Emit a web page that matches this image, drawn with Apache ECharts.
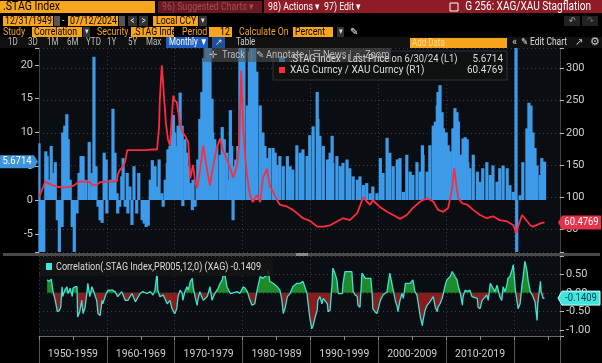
<!DOCTYPE html>
<html><head><meta charset="utf-8">
<script src="https://cdn.jsdelivr.net/npm/echarts@6/dist/echarts.min.js"></script>
<style>html,body{margin:0;padding:0;background:#000;}#c{width:602px;height:363px;}</style>
</head><body><div id="c"></div>
<script>
// ---------- DATA ----------
const decadeLabels = ['1950-1959','1960-1969','1970-1979','1980-1989','1990-1999','2000-2009','2010-2019'];

// .STAG Index, last price (L1) : [decimal year, value]
const stagIndex = [
[1950.0,8.4],[1950.1,-9],[1950.4,-9],[1950.7,-9],[1951.0,7.2],[1951.2,6.5],[1951.5,3],[1951.8,8],[1952.1,4],[1952.4,5.6],
[1952.7,-3],[1953.0,-9],[1953.4,-4],[1953.5,10],[1953.8,11],[1954.1,12.7],[1954.3,9],[1954.6,3],[1954.9,-4],[1955.2,-9],
[1955.6,-2],[1955.9,4],[1956.2,6.5],[1956.3,3],[1956.5,6.5],[1956.9,3],[1957.4,8.6],[1957.8,4],[1958.1,21.2],[1958.4,5],
[1958.7,-1],[1959.0,-3],[1959.3,-3.4],[1959.6,7],[1959.9,6],[1960.0,-2],[1960.5,3],[1960.8,2],[1960.9,13.5],[1961.2,7],
[1961.5,1],[1961.6,-2],[1961.9,-1],[1962.2,3.5],[1962.4,6.2],[1962.7,-1],[1963.0,4],[1963.1,-2],[1963.4,2],[1963.7,-3.7],
[1964.0,5],[1964.4,-2],[1964.7,4],[1965.2,-3],[1965.5,-3.5],[1965.8,-4],[1966.1,-3.8],[1966.4,3],[1966.7,5.9],[1966.8,3],
[1967.1,5],[1967.4,2],[1967.7,6],[1968.1,1],[1968.3,-1],[1968.6,3],[1968.9,5.5],[1969.0,7.5],[1969.3,8],[1969.6,9.6],
[1969.8,12.6],[1970.0,10],[1970.3,8],[1970.5,11],[1970.8,15.9],[1971.1,11],[1971.2,-0.9],[1971.5,9],[1971.8,7],[1972.0,5],
[1972.3,2.5],[1972.6,-1.5],[1972.7,3],[1973.0,-1],[1973.3,2.5],[1973.4,6],[1973.7,12],[1974.0,16],[1974.3,21],[1974.6,25],
[1974.9,25],[1975.2,25],[1975.5,15],[1975.6,10],[1975.9,9],[1976.2,8],[1976.7,6.7],[1977.0,10.8],[1977.3,9],[1977.7,7],
[1977.9,3],[1978.2,13.3],[1978.4,8],[1978.6,-3],[1978.7,5],[1979.0,6],[1979.3,8],[1979.6,25],[1979.9,25],[1980.2,25],
[1980.7,14],[1981.0,22],[1981.2,25],[1981.5,25],[1981.8,25],[1982.1,19],[1982.6,14],[1983.0,10],[1983.3,8],[1983.6,6.2],
[1984.0,7.7],[1984.5,7.7],[1984.8,7],[1985.1,5.2],[1985.5,6.5],[1986.0,5],[1986.6,6.5],[1987.0,5],[1987.4,4.5],[1988.0,8.1],
[1988.5,7],[1988.9,7.5],[1989.5,6.5],[1989.9,9.6],[1990.4,10.9],[1991.0,16],[1991.1,12],[1991.4,9.5],[1991.9,8],[1992.5,6],
[1992.9,7],[1993.2,9.5],[1993.3,5.5],[1993.9,6.5],[1994.4,5],[1994.8,5.5],[1995.4,6],[1995.8,4.7],[1996.3,3.5],[1996.9,3],
[1997.3,3.5],[1997.8,2.2],[1998.3,2.5],[1998.8,1],[1999.2,2],[1999.8,1],[2000.3,6.2],[2000.7,4],[2001.3,9.2],[2001.7,7],
[2002.2,5],[2002.8,6],[2003.2,6.2],[2003.7,1.2],[2004.2,6.7],[2004.7,4.2],[2005.1,3.7],[2005.7,5.6],[2006.2,4.2],[2006.5,8.1],
[2006.6,6.7],[2007.2,4.2],[2007.6,8.1],[2008.1,11],[2008.4,11.6],[2008.7,14],[2008.8,16],[2009.1,17],[2009.4,13],[2009.6,10.6],
[2010.0,10],[2010.3,8.1],[2010.6,7.2],[2011.0,10.6],[2011.3,13.6],[2011.6,13],[2011.8,11.6],[2012.1,6.7],[2012.5,9.1],[2012.8,9.3],
[2013.1,9],[2013.2,5.6],[2013.5,4.7],[2014.0,6.7],[2014.6,4.2],[2015.0,2.7],[2015.4,4.7],[2016.0,5.6],[2016.5,3.7],[2016.9,5.1],
[2017.5,2.7],[2017.9,4.7],[2018.4,5.1],[2019.0,4.7],[2019.4,2.2],[2019.9,1.2],[2020.0,0.7],[2020.3,30],[2020.4,-12],[2020.9,0.7],
[2021.3,5.6],[2021.9,10.6],[2022.2,14.4],[2022.5,14],[2022.8,10],[2023.1,7.7],[2023.4,5.1],[2023.9,3.7],[2024.1,6.2],[2024.3,5.6],
[2024.5,5.6714]
];

// XAG Curncy / XAU Curncy (R1) : [decimal year, value]
const silverGoldRatio = [
[1950.0,100],[1950.1,100],[1950.6,115],[1950.9,124],[1951.3,122],[1951.9,119],[1952.7,116],[1953.4,115],[1954.1,115],[1954.9,117],
[1955.3,119],[1955.9,124],[1956.9,124],[1957.5,123],[1958.0,118],[1958.5,119],[1959.0,123],[1959.9,124],[1960.8,124],[1961.5,125],
[1961.6,135],[1961.9,142],[1962.4,148],[1962.7,155],[1963.0,173],[1964.2,173],[1965.6,173],[1966.7,174],[1967.4,174],[1967.7,210],
[1967.8,250],[1968.1,305],[1968.4,260],[1968.7,215],[1969.0,190],[1969.3,180],[1969.6,230],[1969.8,258],[1970.0,250],[1970.3,248],
[1970.8,212],[1971.2,200],[1971.5,196],[1972.0,185],[1972.3,129],[1972.7,150],[1973.0,124],[1973.3,114],[1973.7,140],[1974.2,180],
[1974.8,140],[1975.2,118],[1975.6,145],[1976.2,177],[1976.7,191],[1977.1,173],[1977.7,158],[1978.2,145],[1978.6,130],[1979.2,150],
[1979.5,180],[1979.8,297],[1980.1,207],[1980.4,160],[1980.7,130],[1981.1,103],[1981.5,92],[1982.1,103],[1982.6,92],[1983.0,130],
[1983.6,144],[1984.0,118],[1984.5,108],[1985.1,95],[1985.5,88],[1986.6,85],[1987.4,80],[1988.0,75],[1988.9,67],[1989.9,63],
[1991.0,54],[1991.9,54],[1992.9,56],[1993.9,62],[1994.8,67],[1995.8,64],[1996.9,75],[1997.8,100],[1998.3,93],[1998.8,88],
[1999.2,95],[2000.3,84],[2001.3,77],[2002.2,72],[2003.2,66],[2004.2,72],[2005.1,83],[2006.2,93],[2007.2,98],[2008.1,93],
[2008.8,80],[2009.6,77],[2010.3,83],[2010.9,114],[2011.2,145],[2011.5,118],[2011.8,98],[2012.4,90],[2013.1,88],[2014.0,80],
[2015.0,72],[2016.0,67],[2016.9,70],[2017.9,64],[2019.0,62],[2019.9,56],[2020.3,44],[2020.6,54],[2021.2,72],[2021.6,67],
[2022.4,56],[2022.8,54],[2023.9,59],[2024.5,60.4769]
];

// Correlation(.STAG Index,PR005,12,0) (XAG) : [decimal year, value]
const correlation = [
[1951.2,0.34],[1951.5,0.3],[1951.8,0.36],[1952.1,0],[1952.4,-0.2],[1952.7,-0.5],[1953.0,-0.46],[1953.2,-0.38],[1953.4,0.16],[1953.5,-0.1],
[1953.8,0.07],[1954.1,0.16],[1954.3,-0.02],[1954.6,0.12],[1954.9,-0.1],[1955.0,0.12],[1955.3,0.16],[1955.6,0.16],[1955.7,-0.64],[1956.0,-0.5],
[1956.3,-0.2],[1956.5,-0.55],[1956.8,-0.38],[1957.1,0.07],[1957.2,0.25],[1957.5,-0.1],[1957.8,0.16],[1958.0,0.07],[1958.3,-0.1],[1958.5,-0.2],
[1958.7,-0.55],[1959.0,-0.6],[1959.3,-0.2],[1959.4,-0.29],[1959.9,-0.02],[1960.2,0.07],[1960.8,0.07],[1961.2,0.03],[1961.6,-0.1],[1962.2,0.03],
[1962.7,-0.2],[1963.1,-0.2],[1963.7,-0.02],[1963.9,0.03],[1964.2,-0.24],[1964.4,-0.29],[1964.9,-0.02],[1965.3,0.03],[1965.9,-0.02],[1966.4,0.03],
[1966.8,-0.06],[1967.1,0.07],[1967.4,0.56],[1967.5,0.07],[1967.8,-0.1],[1968.3,-0.06],[1968.9,-0.29],[1969.3,-0.2],[1969.6,-0.42],[1969.8,-0.38],
[1970.0,-0.55],[1970.3,-0.42],[1970.5,-0.1],[1970.8,0.07],[1971.1,-0.02],[1971.2,-0.2],[1971.5,0.03],[1971.8,0.16],[1972.0,0.07],[1972.3,0.3],
[1972.6,0.38],[1972.7,0.16],[1973.0,-0.1],[1973.3,-0.33],[1973.4,-0.2],[1973.7,0.03],[1974.2,-0.2],[1974.8,-0.1],[1975.2,0.16],[1975.5,-0.2],
[1975.9,-0.02],[1976.4,0.12],[1976.7,0.25],[1977.0,0.34],[1977.1,0.43],[1977.4,0.47],[1977.7,0.16],[1978.2,-0.02],[1978.6,0],[1979.2,0.03],
[1979.6,-0.02],[1980.1,0.16],[1980.4,0.12],[1980.7,0.03],[1980.8,-0.02],[1981.1,-0.2],[1981.4,-0.33],[1981.8,-0.29],[1982.1,0.03],[1982.3,0.07],
[1982.6,0.43],[1983.0,0.38],[1983.6,0.47],[1983.8,0.6],[1984.0,0.3],[1984.5,0.25],[1985.1,0.16],[1985.5,0.07],[1985.8,-0.2],[1986.0,-0.55],
[1986.3,-0.38],[1986.6,-0.1],[1987.0,-0.02],[1987.4,0.16],[1988.0,0.25],[1988.5,0.25],[1988.9,0.3],[1989.5,-0.02],[1989.6,-0.2],[1989.9,-0.64],
[1990.2,-0.95],[1990.4,-0.87],[1990.7,-0.64],[1991.0,-0.46],[1991.1,-0.2],[1991.4,-0.1],[1991.7,-0.29],[1991.9,-0.15],[1992.5,-0.29],[1992.6,-0.5],
[1992.9,-0.46],[1993.2,0.25],[1993.3,0.65],[1993.6,0.52],[1993.9,0.34],[1994.1,-0.02],[1994.7,-0.02],[1994.8,0.25],[1995.1,0.56],[1995.4,0.56],
[1995.8,0.56],[1996.1,0.56],[1996.3,0.03],[1996.6,-0.06],[1996.9,-0.1],[1997.0,-0.33],[1997.3,-0.38],[1997.6,0.52],[1997.8,0.47],[1998.1,0.38],
[1998.3,0.34],[1998.5,0.38],[1998.9,0.38],[1999.1,-0.02],[1999.2,-0.42],[1999.5,-0.5],[1999.8,-0.55],[2000.0,-0.42],[2000.3,-0.2],[2000.7,-0.06],
[2001.3,0.03],[2001.4,0.16],[2001.7,0.52],[2002.0,0.25],[2002.2,0.07],[2002.5,-0.2],[2002.8,-0.38],[2002.9,-0.5],[2003.2,-0.2],[2003.5,-0.02],
[2003.7,-0.15],[2004.0,0.25],[2004.2,0.3],[2004.7,0.25],[2005.1,0.34],[2005.4,0.03],[2005.7,-0.06],[2005.9,-0.29],[2006.2,-0.64],[2006.5,-0.87],
[2006.6,-0.73],[2006.9,-0.46],[2007.2,-0.33],[2007.6,-0.24],[2008.1,-0.1],[2008.4,-0.38],[2008.7,-0.5],[2008.8,-0.38],[2009.1,-0.29],[2009.4,-0.15],
[2009.6,-0.02],[2009.8,0.16],[2010.1,0.34],[2010.3,0.3],[2010.6,0.43],[2010.9,0.56],[2011.0,0.56],[2011.3,0.43],[2011.6,0.34],[2011.8,0.16],
[2012.1,-0.02],[2012.4,-0.33],[2012.5,-0.1],[2012.8,0.07],[2013.1,0.03],[2013.5,0.07],[2013.8,-0.1],[2014.0,-0.06],[2014.6,-0.15],[2014.7,-0.38],
[2015.0,-0.42],[2015.3,-0.2],[2015.4,-0.24],[2016.0,-0.06],[2016.2,-0.2],[2016.5,0.25],[2016.8,0.16],[2016.9,0.2],[2017.2,0.03],[2017.5,0.2],
[2017.7,0.25],[2017.9,-0.1],[2018.2,-0.2],[2018.4,0.16],[2018.7,0.03],[2019.0,0.25],[2019.1,0.38],[2019.4,0.43],[2019.7,0.6],[2019.9,0.74],
[2020.2,0.07],[2020.5,-0.29],[2020.6,-0.42],[2020.9,-0.29],[2021.2,0.25],[2021.3,0.34],[2021.6,0.83],[2021.9,0.6],[2022.1,0.3],[2022.4,0.03],
[2022.7,-0.06],[2022.8,-0.02],[2023.1,-0.24],[2023.4,-0.73],[2023.5,-0.29],[2023.9,0.3],[2024.0,0.03],[2024.3,-0.15],[2024.5,-0.1409]
];

// ---------- CHART ----------
const FONT = '"Roboto","Liberation Sans",sans-serif';
const X_MIN = 1950, X_MAX = 2026.78;
const isMult = (v, m) => Math.abs(v / m - Math.round(v / m)) < 1e-6;
const dotted = { color: '#3b3b3b', type: [1, 3], width: 1 };

const chart = echarts.init(document.getElementById('c'), null, { renderer: 'canvas' });
chart.setOption({
  backgroundColor: '#000',
  animation: false,
  textStyle: { fontFamily: FONT },
  grid: [
    { left: 39, top: 48, width: 521, height: 204, show: true, backgroundColor: '#0a0d12', borderWidth: 0 },
    { left: 39, top: 256, width: 521, height: 80, show: true, backgroundColor: '#0a0d12', borderWidth: 0 }
  ],
  xAxis: [
    { gridIndex: 0, type: 'value', position: 'bottom', min: X_MIN, max: X_MAX, interval: 10,
      axisLabel: { show: false }, axisTick: { show: false }, axisLine: { show: false, onZero: false },
      splitLine: { show: true, lineStyle: dotted } },
    { gridIndex: 1, type: 'value', position: 'bottom', min: X_MIN, max: X_MAX, interval: 10,
      axisLabel: { show: false }, axisTick: { show: true, length: 27, lineStyle: { color: '#555' } },
      axisLine: { show: true, onZero: false, lineStyle: { color: '#666' } },
      splitLine: { show: true, lineStyle: dotted } },
    { gridIndex: 1, type: 'value', position: 'bottom', min: X_MIN, max: X_MAX, interval: 5,
      axisLine: { show: false, onZero: false }, axisTick: { show: true, length: 4, lineStyle: { color: '#888' } },
      splitLine: { show: false },
      axisLabel: { show: true, margin: 13, color: '#cfcfcf', fontSize: 10.5, fontFamily: FONT, hideOverlap: false,
        formatter: function (v) {
          const r = v - 1955; if (!isMult(r, 10)) return '';
          const i = Math.round(r / 10); return (i >= 0 && i < decadeLabels.length) ? decadeLabels[i] : '';
        } } }
  ],
  yAxis: [
    { gridIndex: 0, type: 'value', position: 'left', min: -7.7, max: 22.5, splitNumber: 6,
      axisLine: { show: true, onZero: false, lineStyle: { color: '#444' } },
      axisTick: { show: true, length: 4, lineStyle: { color: '#bbb' } },
      splitLine: { show: false },
      axisLabel: { color: '#cfcfcf', fontSize: 11, margin: 6, fontFamily: FONT,
        formatter: v => isMult(v, 5) ? String(Math.round(v)) : '' } },
    { gridIndex: 0, type: 'value', position: 'right', min: 14.4, max: 332, splitNumber: 6,
      axisLine: { show: true, onZero: false, lineStyle: { color: '#444' } },
      axisTick: { show: true, length: 4, lineStyle: { color: '#bbb' } },
      splitLine: { show: true, lineStyle: dotted },
      axisLabel: { color: '#cfcfcf', fontSize: 11, margin: 6, fontFamily: FONT,
        formatter: v => isMult(v, 50) ? String(Math.round(v)) : '' } },
    { gridIndex: 1, type: 'value', position: 'right', min: -1.14, max: 0.97, splitNumber: 4,
      axisLine: { show: true, onZero: false, lineStyle: { color: '#444' } },
      axisTick: { show: true, length: 4, lineStyle: { color: '#bbb' } },
      splitLine: { show: true, lineStyle: dotted },
      axisLabel: { color: '#cfcfcf', fontSize: 11, margin: 6, fontFamily: FONT,
        formatter: v => isMult(v, 0.5) ? v.toFixed(2) : '' } }
  ],
  visualMap: [{ type: 'piecewise', show: false, seriesIndex: 2, dimension: 1,
    pieces: [{ gt: 0, lte: 1, color: '#1e8a2a' }, { gte: -1.2, lte: 0, color: '#8a1b1e' }] }],
  series: [
    { name: '.STAG Index', type: 'bar', xAxisIndex: 0, yAxisIndex: 0, data: stagIndex,
      barWidth: 3.2, itemStyle: { color: '#3d9be9' }, z: 2, clip: true },
    { name: 'XAG Curncy / XAU Curncy', type: 'line', xAxisIndex: 0, yAxisIndex: 1, data: silverGoldRatio,
      symbol: 'none', lineStyle: { color: '#ff2a3d', width: 1.8 }, itemStyle: { color: '#ff2a3d' }, z: 5 },
    { name: 'corrArea', type: 'line', xAxisIndex: 1, yAxisIndex: 2, data: correlation,
      symbol: 'none', lineStyle: { width: 0 }, areaStyle: { opacity: 1 }, z: 2 },
    { name: 'Correlation', type: 'line', xAxisIndex: 1, yAxisIndex: 2, data: correlation,
      symbol: 'none', lineStyle: { color: '#3fe3d3', width: 1.3 }, itemStyle: { color: '#3fe3d3' }, z: 4 }
  ]
});

// ---------- DECORATION (header, legends, value tags) ----------
function R(x, y, w, h, fill, stroke) {
  return { type: 'rect', shape: { x: x, y: y, width: w, height: h }, style: { fill: fill, stroke: stroke || null, lineWidth: stroke ? 1 : 0 }, z: 100, silent: true };
}
function T(x, y, text, fill, size, align, sx) {
  const s = sx || 0.8;
  return { type: 'text', x: x, y: y, scaleX: s, scaleY: 1,
    style: { x: 0, y: 0, text: text, fill: fill, font: size + 'px ' + FONT, align: align || 'left', verticalAlign: 'middle' }, z: 101, silent: true };
}
function P(points, fill, stroke) {
  return { type: 'polygon', shape: { points: points }, style: { fill: fill, stroke: stroke || null, lineWidth: stroke ? 1 : 0 }, z: 102, silent: true };
}
const OR = '#f7a51c', GR = '#333';
const lastStag = stagIndex[stagIndex.length - 1][1];
const lastRatio = silverGoldRatio[silverGoldRatio.length - 1][1];
const lastCorr = correlation[correlation.length - 1][1];

const g = [];
// row 1
g.push(R(0, 1, 155, 12, OR), T(3, 7, '.STAG Index', '#000', 12, 'left', 0.88));
g.push(R(158, 1, 104, 12, '#6a1822'), T(162, 7, '96) Suggested Charts \u25BE', '#a64c5a', 11, 'left', 0.8));
g.push(R(264, 0, 338, 13, '#8e1b25'), T(268, 7, '98) Actions \u25BE', '#fff', 11), T(324, 7, '97) Edit \u25BE', '#fff', 11));
g.push(R(450, 3, 8, 8, 'none', '#fff'), T(591, 7, 'G 256: XAG/XAU Stagflation', '#fff', 12, 'right', 0.84));
// row 2
g.push(R(3, 16, 50, 10, OR), T(5, 21, '12/31/1949', '#000', 11), R(54, 16, 6, 10, '#555'), T(62, 21, '-', '#ddd', 11));
g.push(R(68, 16, 50, 10, OR), T(70, 21, '07/12/2024', '#000', 11), R(119, 16, 6, 10, '#555'));
g.push(R(128, 16, 9, 10, GR), T(132.5, 21, '<', '#ddd', 10, 'center'), R(139, 16, 9, 10, GR), T(143.5, 21, '>', '#ddd', 10, 'center'));
g.push(R(153, 16, 45, 10, OR), T(156, 21, 'Local CCY', '#000', 11), R(199, 16, 8, 10, GR), T(203, 21, '\u25BE', '#ddd', 9, 'center'));
g.push(R(564, 16, 16, 10, '#222'), T(572, 21, '\u21B6', '#aaa', 10, 'center'), R(582, 16, 16, 10, '#222'), T(590, 21, '\u21B7', '#666', 10, 'center'));
// row 3
g.push(T(3, 32, 'Study', OR, 11), R(32, 27, 50, 10, OR), T(34, 32, 'Correlation', '#000', 11), R(83, 27, 7, 10, GR), T(86.5, 32, '\u25BE', '#ddd', 9, 'center'));
g.push(T(97, 32, 'Security', OR, 11), R(131, 27, 43, 10, OR), T(133, 32, '.STAG Inde', '#000', 11));
g.push(T(182, 32, 'Period', OR, 11), R(209, 27, 23, 10, OR), T(230, 32, '12', '#000', 11, 'right'));
g.push(T(239, 32, 'Calculate On', OR, 11), R(293, 27, 40, 10, OR), T(295, 32, 'Percent', '#000', 11), R(337, 27, 7, 10, GR), T(340.5, 32, '\u25BE', '#ddd', 9, 'center'));
g.push(T(350, 32, '\u270E', '#eee', 10, 'left', 1));
// row 4
g.push(R(0, 37, 602, 11, '#101010'));
[['1D', 8], ['3D', 28], ['1M', 47], ['6M', 67], ['YTD', 86], ['1Y', 107], ['5Y', 128], ['Max', 146]].forEach(a => g.push(T(a[1], 42.5, a[0], '#bbb', 10)));
g.push(R(166, 37, 42, 11, '#1f5fc0'), T(169, 42.5, 'Monthly \u25BC', '#fff', 10), R(212, 37, 13, 11, '#1f4f96'), T(218.5, 42.5, '\u2197', '#cde', 9, 'center', 1));
g.push(T(236, 42.5, 'Table', '#ccc', 10));
g.push(R(410, 38, 97, 10, OR), T(412, 43, 'Add Data', '#fcd9a0', 10));
g.push(T(512, 42.5, '\u00AB', '#ccc', 11, 'left', 1), T(521, 42.5, '\u270E Edit Chart', '#ddd', 10, 'left', 0.85), T(575, 42.5, '\u2197', '#ccc', 10, 'left', 1), T(590, 42.5, '\u2699', '#ccc', 11, 'left', 1));
// main legend + tool strip
g.push(R(273, 51, 234, 29, 'rgba(16,16,16,0.92)', '#333'));
g.push(R(279, 56, 6, 6, '#3d9be9'), T(290, 59, '.STAG Index - Last Price on 6/30/24 (L1)', '#ddd', 11, 'left', 0.85), T(503, 59, lastStag.toFixed(4), '#ddd', 11, 'right', 0.9));
g.push(R(279, 67, 6, 6, '#ff2a3d'), T(290, 70, 'XAG Curncy / XAU Curncy (R1)', '#ddd', 11, 'left', 0.9), T(503, 70, lastRatio.toFixed(4), '#ddd', 11, 'right', 0.9));
g.push(R(203, 48, 188, 14, 'rgba(80,80,80,0.6)'));
g.push(T(209, 55, '\u271B', '#bbb', 10, 'left', 1), T(222, 55, 'Track', '#bbb', 11, 'left', 0.85), R(251, 50, 1, 10, '#777'));
g.push(T(256, 55, '\u270E', '#bbb', 10, 'left', 1), T(266, 55, 'Annotate', '#bbb', 11, 'left', 0.85), R(309, 50, 1, 10, '#777'));
g.push(T(313, 55, '\u2630', '#bbb', 9, 'left', 1), T(323, 55, 'News', '#bbb', 11, 'left', 0.85), R(350, 50, 1, 10, '#777'));
g.push(T(355, 55, '\u2315', '#bbb', 10, 'left', 1), T(365, 55, 'Zoom', '#bbb', 11, 'left', 0.85));
// panel separator
g.push(R(3, 253, 597, 3, '#4a4a4a'), R(296, 253, 12, 3, '#8a8a8a'));
// lower legend
g.push(R(40, 257, 233, 19, 'rgba(20,20,20,0.9)'), R(46, 263, 6, 7, '#3ee8e0'));
g.push(T(56, 267, 'Correlation(.STAG Index,PR005,12,0) (XAG) ' + lastCorr.toFixed(4), '#ddd', 10.5, 'left', 0.86));

// value tags on axes (positions from the axes)
const yB = chart.convertToPixel({ yAxisIndex: 0 }, lastStag);
const yR = chart.convertToPixel({ yAxisIndex: 1 }, lastRatio);
const yC = chart.convertToPixel({ yAxisIndex: 2 }, lastCorr);
g.push(P([[0, yB - 6.5], [34, yB - 6.5], [38, yB], [34, yB + 6.5], [0, yB + 6.5]], '#3d93dc'), Object.assign(T(17, yB, lastStag.toFixed(4), '#fff', 10.5, 'center', 0.9), { z: 103 }));
g.push(P([[558, yR], [562, yR - 7], [601, yR - 7], [601, yR + 7], [562, yR + 7]], '#e8324a'), Object.assign(T(581.5, yR, lastRatio.toFixed(4), '#fff', 10.5, 'center', 0.9), { z: 103 }));
g.push(P([[558, yC], [562, yC - 7], [600, yC - 7], [600, yC + 7], [562, yC + 7]], '#40e6dc', '#c8ffff'), Object.assign(T(581, yC, lastCorr.toFixed(4), '#073a56', 10.5, 'center', 0.9), { z: 103 }));

chart.setOption({ graphic: { elements: g } });
</script>
</body></html>
